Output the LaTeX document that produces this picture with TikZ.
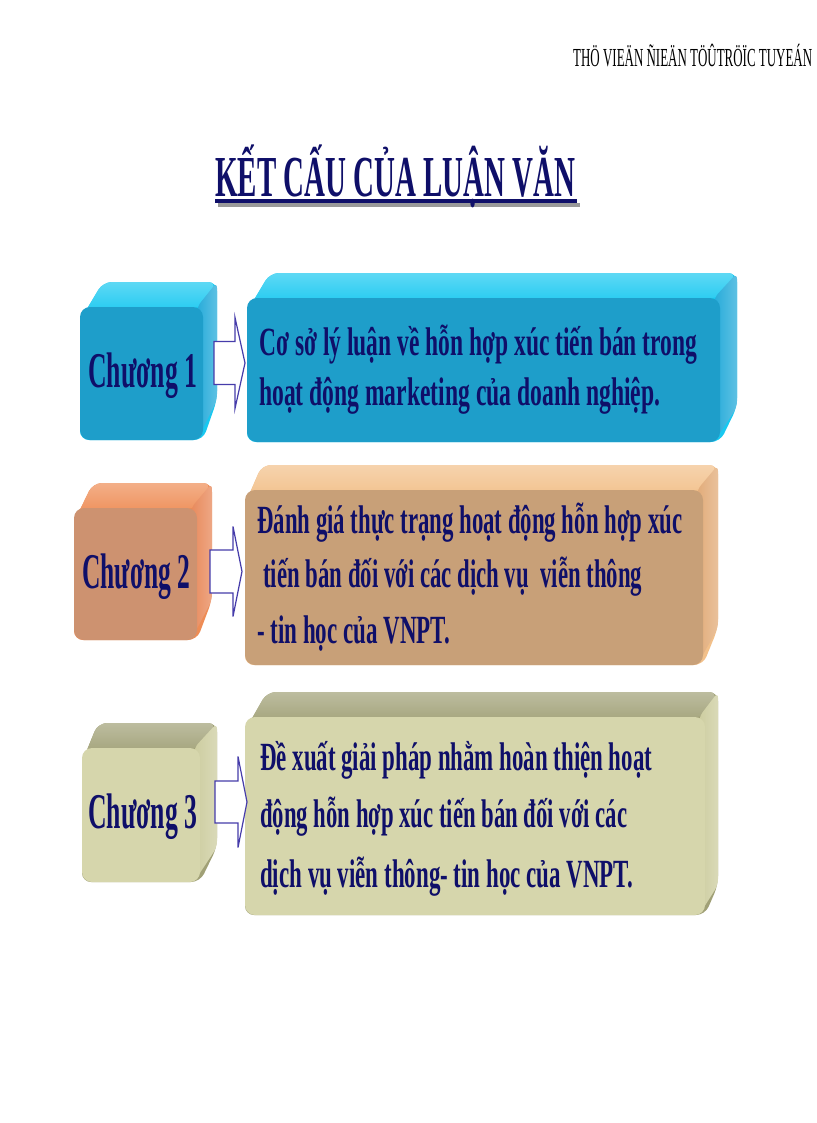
\documentclass[tikz,border=0pt]{standalone}
\usepackage{fontspec}
\setmainfont{Liberation Serif}
\usepackage{graphicx}
\definecolor{navy}{RGB}{15,15,105}
\definecolor{arrowc}{RGB}{70,60,170}
\definecolor{aTop}{RGB}{25,200,240}
\definecolor{aSide}{RGB}{40,172,218}
\definecolor{aFront}{RGB}{30,158,202}
\definecolor{bTopS}{RGB}{238,140,85}
\definecolor{bSideS}{RGB}{232,138,92}
\definecolor{bFrontS}{RGB}{205,146,112}
\definecolor{bTop}{RGB}{242,192,138}
\definecolor{bSide}{RGB}{226,172,122}
\definecolor{bFront}{RGB}{200,160,120}
\definecolor{cTop}{RGB}{160,160,118}
\definecolor{cSide}{RGB}{205,205,160}
\definecolor{cFront}{RGB}{214,214,172}
\newcommand\bevelbox[7]{% #1 name, #2 top, #3 side, #4 front, #5 dl, #6 dr, #7 lift
  \fill[#2, rounded corners=9pt] ([shift={(0,14)}]#1.north west) -- ([shift={(#5,-25)}]#1.north west)
     -- ([shift={(#6,-25)}]#1.north east) -- ([shift={(#6,#7)}]#1.south east) -- (#1.south east) -- (#1.south west) -- cycle;
  \shade[top color=#2!70!white, bottom color=#2, rounded corners=9pt] ([shift={(2,10)}]#1.north west) -- ([shift={(#5,-25)}]#1.north west)
     -- ([shift={(#6,-25)}]#1.north east) -- (#1.north east) -- cycle;
  \shade[left color=#3, right color=#3!75!white, rounded corners=6pt] ([shift={(-6,0)}]#1.north east) -- ([shift={(#6,-25)}]#1.north east)
     -- ([shift={(#6,#7)}]#1.south east) -- ([shift={(-6,0)}]#1.south east) -- cycle;
  \fill[#4, rounded corners=10pt] (#1.north west) rectangle (#1.south east);
}
\tikzset{
  face/.style n args={2}{anchor=north west, inner sep=0pt, outer sep=0pt, minimum width=#1, minimum height=#2},
  txt/.style={anchor=base west, inner sep=0pt, text=navy, font=\bfseries\fontsize{40}{44}\selectfont},
  chap/.style={anchor=base west, inner sep=0pt, text=navy, font=\bfseries\fontsize{50}{54}\selectfont},
  blockarrow/.style={draw=arrowc, line width=1.2pt, fill=white, line join=miter}
}
\begin{document}
\begin{tikzpicture}[x=1pt,y=-1pt]
\fill[white] (0,0) rectangle (816,1123);
\useasboundingbox (0,0) rectangle (816,1123);

% header
\node[anchor=base west, inner sep=0pt, font=\fontsize{26}{28}\selectfont] (hdr) at (573,67)
  {\resizebox{239pt}{\height}{THÖ VIEÄN ÑIEÄN TÖÛTRÖÏC TUYEÁN}};

% title with underline and its shadow
\fill[black!40] (218,203) rectangle (580,207);
\node[anchor=base west, inner sep=0pt, text=navy, font=\bfseries\fontsize{58}{62}\selectfont] (title) at (215,197)
  {\resizebox{360pt}{\height}{KẾT CẤU CỦA LUẬN VĂN}};
\fill[navy] (215,199.5) rectangle (577,203.5);

% box geometry (front faces)
\path node[face={123pt}{133pt}] (s1) at (80,307) {};
\path node[face={473pt}{144pt}] (b1) at (247,298) {};
\path node[face={123pt}{132pt}] (s2) at (74,508) {};
\path node[face={458pt}{175pt}] (b2) at (245,490) {};
\path node[face={118pt}{134pt}] (s3) at (82,748) {};
\path node[face={460pt}{198pt}] (b3) at (245,717) {};

\bevelbox{s1}{aTop}{aSide}{aFront}{23}{14}{-40}
\bevelbox{b1}{aTop}{aSide}{aFront}{23}{17}{-35}
\bevelbox{s2}{bTopS}{bSideS}{bFrontS}{19}{15}{-40}
\bevelbox{b2}{bTop}{bSide}{bFront}{17}{15}{-37}
\bevelbox{s3}{cTop}{cSide}{cFront}{16}{17}{-35}
\bevelbox{b3}{cTop}{cSide}{cFront}{22}{13}{-30}

% block arrows
\coordinate (a1) at (214,363);
\coordinate (a2) at (210,571.5);
\coordinate (a3) at (215,802);
\draw[blockarrow] (a1) ++(0,-21.5) -- ++(21,0) -- ++(0,-24) -- ++(10,45.5) -- ++(-10,45.5) -- ++(0,-24) -- ++(-21,0) -- cycle;
\draw[blockarrow] (a2) ++(0,-21.5) -- ++(23,0) -- ++(0,-23.5) -- ++(9,45) -- ++(-9,45) -- ++(0,-23.5) -- ++(-23,0) -- cycle;
\draw[blockarrow] (a3) ++(0,-21) -- ++(23,0) -- ++(0,-24.5) -- ++(9,45.5) -- ++(-9,45.5) -- ++(0,-24.5) -- ++(-23,0) -- cycle;

% chapter labels
\node[chap] (c1) at (88,387) {\resizebox{109pt}{\height}{Chương 1}};
\node[chap] (c2) at (82,588) {\resizebox{108pt}{\height}{Chương 2}};
\node[chap] (c3) at (88,828) {\resizebox{109pt}{\height}{Chương 3}};

% box texts
\node[txt] (t1a) at (259,355) {\resizebox{438pt}{\height}{Cơ sở lý luận về hỗn hợp xúc tiến bán trong}};
\node[txt] (t1b) at (259,405) {\resizebox{401pt}{\height}{hoạt động marketing của doanh nghiệp.}};

\node[txt] (t2a) at (257,533) {\resizebox{425pt}{\height}{Đánh giá thực trạng hoạt động hỗn hợp xúc}};
\node[txt] (t2b) at (263,587) {\resizebox{379pt}{\height}{tiến bán đối với các dịch vụ\ \ viễn thông}};
\node[txt] (t2c) at (257,643) {\resizebox{193pt}{\height}{- tin học của VNPT.}};

\node[txt] (t3a) at (260,770) {\resizebox{392pt}{\height}{Đề xuất giải pháp nhằm hoàn thiện hoạt}};
\node[txt] (t3b) at (260,827) {\resizebox{367pt}{\height}{động hỗn hợp xúc tiến bán đối với các}};
\node[txt] (t3c) at (260,887) {\resizebox{373pt}{\height}{dịch vụ viễn thông- tin học của VNPT.}};
\end{tikzpicture}
\end{document}
